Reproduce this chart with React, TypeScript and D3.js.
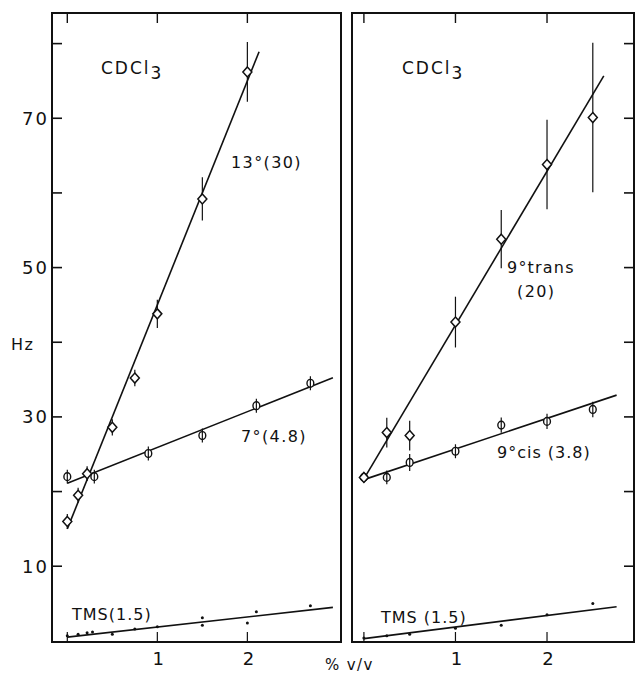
import React from "react";
import * as d3 from "d3";

// ---------- data ----------
const yTickValues = [10, 20, 30, 40, 50, 60, 70, 80];
const yTickLabels = ["10", "", "30", "", "50", "", "70", ""];
const xTickValues = [0, 1, 2];
const xTickLabels = ["", "1", "2"];

// Left panel: 13° (slope 30)
const l13x = [0, 0.12, 0.22, 0.5, 0.75, 1.0, 1.5, 2.0];
const l13y = [16.0, 19.5, 22.4, 28.6, 35.2, 43.8, 59.2, 76.2];
const l13e = [1.0, 1.0, 1.0, 1.1, 1.1, 1.9, 2.9, 4.0];
// Left panel: 7° (slope 4.8)
const l7x = [0, 0.3, 0.9, 1.5, 2.1, 2.7];
const l7y = [22.0, 22.0, 25.1, 27.5, 31.5, 34.5];
const l7e = [0.8, 0.8, 0.8, 0.8, 0.8, 0.8];
// Left panel: TMS
const lTx = [0, 0.12, 0.22, 0.28, 0.5, 0.75, 1.0, 1.5, 1.5, 2.0, 2.1, 2.7];
const lTy = [0.7, 0.9, 1.1, 1.2, 0.9, 1.6, 1.9, 3.1, 2.1, 2.4, 3.9, 4.7];

// Right panel: 9° trans (slope 20)
const rTrx = [0, 0.25, 0.5, 1.0, 1.5, 2.0, 2.5];
const rTry = [21.9, 27.9, 27.5, 42.7, 53.8, 63.8, 70.1];
const rTre = [0.5, 2.0, 2.0, 3.4, 3.9, 6.0, 10.0];
// Right panel: 9° cis (slope 3.8)
const rCx = [0, 0.25, 0.5, 1.0, 1.5, 2.0, 2.5];
const rCy = [21.9, 21.9, 23.9, 25.4, 28.9, 29.4, 31.0];
const rCe = [0.6, 0.8, 1.0, 0.8, 0.9, 0.9, 0.9];
// Right panel: TMS
const rTx = [0, 0.25, 0.5, 1.0, 1.5, 2.0, 2.5];
const rTy = [0.4, 0.7, 0.9, 1.7, 2.1, 3.5, 5.0];

// fitted lines: [intercept, slope, xStart, xEnd]
const fitL13 = [15.0, 30, 0, 2.13];
const fitL7 = [21.1, 4.8, 0, 2.95];
const fitLT = [0.5, 1.35, 0, 2.95];
const fitRTr = [21.7, 20.6, 0, 2.62];
const fitRC = [21.6, 4.1, 0, 2.76];
const fitRT = [0.3, 1.55, 0, 2.76];

// ---------- layout ----------
const W = 636;
const H = 674;
const top = 13;
const bottom = 642;
const FONT = "DejaVu Sans, Liberation Sans, sans-serif";
const INK = "#111";

const yScale = d3.scaleLinear().domain([-0.15, 84.1]).range([bottom, top]);
const xLeft = d3.scaleLinear().domain([-0.17, 3.04]).range([52, 341]);
const xRight = d3.scaleLinear().domain([-0.13, 2.95]).range([352, 634]);

type Sc = d3.ScaleLinear<number, number>;

function FitLine({ x, fit }: { x: Sc; fit: number[] }) {
  const [a, b, x0, x1] = fit;
  const line = d3
    .line<number>()
    .x((v) => x(v))
    .y((v) => yScale(a + b * v));
  return <path d={line([x0, x1]) || ""} stroke={INK} strokeWidth={1.6} fill="none" />;
}

function Diamonds({ x, xs, ys, es }: { x: Sc; xs: number[]; ys: number[]; es: number[] }) {
  return (
    <g>
      {xs.map((v, i) => {
        const cx = x(v);
        const cy = yScale(ys[i]);
        return (
          <g key={i}>
            <line x1={cx} x2={cx} y1={yScale(ys[i] - es[i])} y2={yScale(ys[i] + es[i])} stroke={INK} strokeWidth={1.2} />
            <path
              d={`M${cx},${cy - 5} L${cx + 4.5},${cy} L${cx},${cy + 5} L${cx - 4.5},${cy} Z`}
              fill="white"
              stroke={INK}
              strokeWidth={1.5}
            />
          </g>
        );
      })}
    </g>
  );
}

function Circles({ x, xs, ys, es }: { x: Sc; xs: number[]; ys: number[]; es: number[] }) {
  return (
    <g>
      {xs.map((v, i) => {
        const cx = x(v);
        const cy = yScale(ys[i]);
        return (
          <g key={i}>
            <ellipse cx={cx} cy={cy} rx={3.4} ry={3.9} fill="white" stroke={INK} strokeWidth={1.4} />
            <line x1={cx} x2={cx} y1={yScale(ys[i] - es[i]) + 1} y2={yScale(ys[i] + es[i]) - 1} stroke={INK} strokeWidth={1.2} />
          </g>
        );
      })}
    </g>
  );
}

function Dots({ x, xs, ys }: { x: Sc; xs: number[]; ys: number[] }) {
  return (
    <g>
      {xs.map((v, i) => (
        <circle key={i} cx={x(v)} cy={yScale(ys[i])} r={1.5} fill={INK} />
      ))}
    </g>
  );
}

function Frame({ x, side }: { x: Sc; side: "left" | "right" }) {
  const [x0, x1] = x.range();
  return (
    <g>
      <rect x={x0} y={top} width={x1 - x0} height={bottom - top} fill="none" stroke={INK} strokeWidth={2} />
      {xTickValues.map((v) => (
        <g key={"xt" + v}>
          <line x1={x(v)} x2={x(v)} y1={top} y2={top + 10} stroke={INK} strokeWidth={1.4} />
          <line x1={x(v)} x2={x(v)} y1={bottom} y2={bottom - 10} stroke={INK} strokeWidth={1.2} />
        </g>
      ))}
      {yTickValues.map((v) => {
        const y = yScale(v);
        return side === "left" ? (
          <line key={"yt" + v} x1={x0} x2={x0 + 10} y1={y} y2={y} stroke={INK} strokeWidth={1.6} />
        ) : (
          <line key={"yt" + v} x1={x1} x2={x1 - 10} y1={y} y2={y} stroke={INK} strokeWidth={1.6} />
        );
      })}
      {xTickValues.map((v, i) => (
        <text key={"xl" + v} x={x(v) + 1} y={665} fontSize={18} textAnchor="middle" fill={INK} fontFamily={FONT}>
          {xTickLabels[i]}
        </text>
      ))}
    </g>
  );
}

function Label({ x, y, children, size = 16, ls = 1.4 }: { x: number; y: number; children: React.ReactNode; size?: number; ls?: number }) {
  return (
    <text x={x} y={y} fontSize={size} fill={INK} fontFamily={FONT} letterSpacing={ls}>
      {children}
    </text>
  );
}

export default function App() {
  return (
    <svg width={W} height={H} style={{ display: "block", position: "absolute", left: 0, top: 0, background: "white" }}>
      <rect x={0} y={0} width={W} height={H} fill="white" />
      {/* Left panel */}
      <Frame x={xLeft} side="left" />
      {yTickValues.map((v, i) => (
        <text key={"yl" + v} x={49} y={yScale(v) + 6.5} fontSize={18} textAnchor="end" fill={INK} fontFamily={FONT} letterSpacing={2}>
          {yTickLabels[i]}
        </text>
      ))}
      <FitLine x={xLeft} fit={fitL13} />
      <FitLine x={xLeft} fit={fitL7} />
      <FitLine x={xLeft} fit={fitLT} />
      <Circles x={xLeft} xs={l7x} ys={l7y} es={l7e} />
      <Diamonds x={xLeft} xs={l13x} ys={l13y} es={l13e} />
      <Dots x={xLeft} xs={lTx} ys={lTy} />
      <Label x={101} y={74} size={17} ls={2}>
        CDCl<tspan dy={5}>3</tspan>
      </Label>
      <Label x={231} y={168}>13°(30)</Label>
      <Label x={241} y={442}>7°(4.8)</Label>
      <Label x={72} y={620} ls={1}>TMS(1.5)</Label>
      <Label x={11} y={350}>Hz</Label>

      {/* Right panel */}
      <Frame x={xRight} side="right" />
      <FitLine x={xRight} fit={fitRTr} />
      <FitLine x={xRight} fit={fitRC} />
      <FitLine x={xRight} fit={fitRT} />
      <Circles x={xRight} xs={rCx} ys={rCy} es={rCe} />
      <Diamonds x={xRight} xs={rTrx} ys={rTry} es={rTre} />
      <Dots x={xRight} xs={rTx} ys={rTy} />
      <Label x={402} y={74} size={17} ls={2}>
        CDCl<tspan dy={5}>3</tspan>
      </Label>
      <Label x={507} y={273} ls={1.2}>9°trans</Label>
      <Label x={517} y={297}>(20)</Label>
      <Label x={497} y={458} ls={1}>9°cis (3.8)</Label>
      <Label x={381} y={623} ls={1}>TMS (1.5)</Label>
      <Label x={325} y={670} size={15}>% v/v</Label>
    </svg>
  );
}
